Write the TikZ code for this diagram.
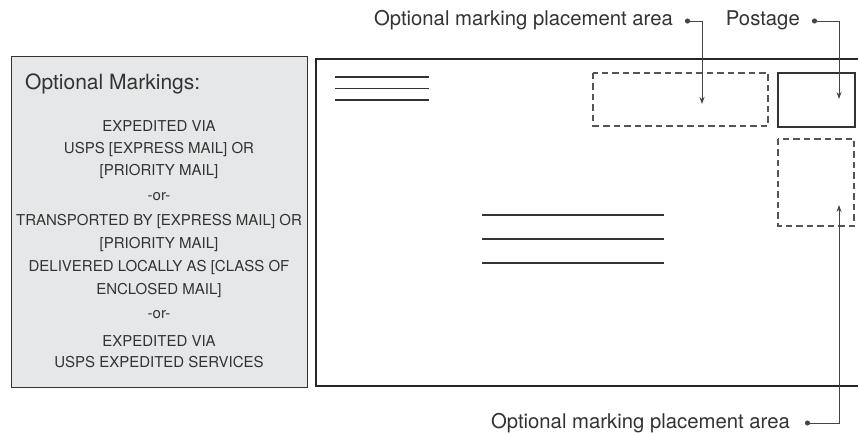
\documentclass[tikz,border=0pt]{standalone}
\usepackage{fontspec}
\setmainfont{TeX Gyre Heros}
\usetikzlibrary{arrows.meta}
\definecolor{ink}{HTML}{333333}
\definecolor{panel}{HTML}{E6E7E8}
\definecolor{dashc}{HTML}{555555}
\definecolor{leader}{HTML}{444444}
\tikzset{
  panelbox/.style={draw=ink, line width=1bp, fill=panel},
  envline/.style={draw=black!85, line width=2bp},
  addrline/.style={draw=ink, line width=1.1bp},
  dashbox/.style={draw=dashc, line width=1.2bp, dash pattern=on 6.5bp off 4bp},
  solidbox/.style={draw=ink, line width=1.1bp},
  bodytext/.style={text=ink, font=\fontsize{15bp}{22bp}\selectfont, align=center, inner sep=0pt},
  bodytextwide/.style={bodytext, font=\fontsize{15bp}{23bp}\selectfont},
  bodytextnarrow/.style={bodytext, font=\fontsize{15bp}{21bp}\selectfont},
  bigtext/.style={text=ink, font=\fontsize{20.3bp}{24bp}\selectfont, inner sep=0pt},
  titletext/.style={text=ink, font=\fontsize{21bp}{24bp}\selectfont, inner sep=0pt},
  leaderline/.style={draw=leader, line width=0.9bp, {Circle[length=5bp]}-{Stealth[length=7bp,width=5bp]}},
}
\begin{document}
\begin{tikzpicture}[x=1bp,y=-1bp]
\useasboundingbox (0,0) rectangle (858,433);
% left panel
\draw[panelbox] (11,57) rectangle (307,387);
\node[titletext, anchor=base west] (title) at (25,90) {Optional Markings:};
\node[bodytext, anchor=north] (blockA) at (159,120.6) {EXPEDITED VIA\\USPS [EXPRESS MAIL] OR\\{[}PRIORITY MAIL{]}};
\node[bodytext, anchor=north] (orA) at (159,192) {-or-};
\node[bodytextwide, anchor=north] (blockB) at (159,214.1) {TRANSPORTED BY [EXPRESS MAIL] OR\\{[}PRIORITY MAIL{]}\\DELIVERED LOCALLY AS [CLASS OF\\ENCLOSED MAIL]};
\node[bodytext, anchor=north] (orB) at (159,310) {-or-};
\node[bodytextnarrow, anchor=north] (blockC) at (159,335.6) {EXPEDITED VIA\\USPS EXPEDITED SERVICES};
% envelope
\draw[envline] (862,59) -- (316,59) -- (316,386) -- (862,386);
% return address lines
\draw[addrline] (335,77) -- (429,77);
\draw[addrline] (335,88.5) -- (429,88.5);
\draw[addrline] (335,100) -- (429,100);
% address lines
\draw[addrline] (482,215) -- (664,215);
\draw[addrline] (482,239) -- (664,239);
\draw[addrline] (482,263) -- (664,263);
% boxes
\draw[dashbox] (593,73) rectangle (768,126);
\draw[solidbox] (778,73) rectangle (855,127);
\draw[dashbox] (778,139) rectangle (854,226);
% labels
\node[bigtext, anchor=base east] (lblA) at (673,26) {Optional marking placement area};
\node[bigtext, anchor=base east] (lblP) at (800,26) {Postage};
\node[bigtext, anchor=base east] (lblB) at (790,428) {Optional marking placement area};
% leader coordinates
\coordinate (dotA) at (685,21);
\coordinate (tipA) at (702,104);
\coordinate (dotP) at (812,21);
\coordinate (tipP) at (839,99);
\coordinate (dotB) at (805,423);
\coordinate (tipB) at (839,205);
\draw[leaderline] (dotA) -| (tipA);
\draw[leaderline] (dotP) -| (tipP);
\draw[leaderline] (dotB) -| (tipB);
\end{tikzpicture}
\end{document}
